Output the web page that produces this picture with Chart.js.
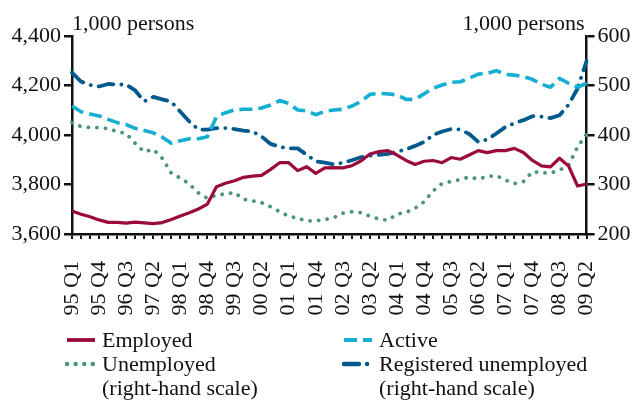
<!DOCTYPE html>
<html>
<head>
<meta charset="utf-8">
<script src="https://cdn.jsdelivr.net/npm/chart.js@4/dist/chart.umd.min.js"></script>
<style>
  html, body { margin: 0; padding: 0; background: #fff; }
  #wrap { position: relative; width: 635px; height: 401px; }
  #legend { position: absolute; left: 0; top: 0; width: 635px; height: 401px; pointer-events: none;
    font-family: "Liberation Serif", "DejaVu Serif", serif; font-size: 22px; color: #111; }
  .item { position: absolute; display: flex; align-items: flex-start; }
  .item svg { flex: none; margin-top: 0; }
  .item span { white-space: pre-line; line-height: 24px; margin-left: 6px; }
</style>
</head>
<body>
<div id="wrap">
  <canvas id="grafica" width="635" height="401"></canvas>
  <div id="legend"></div>
</div>
<script>
// quarters 95 Q1 .. 09 Q2
const trimestres = [
  "95 Q1","95 Q2","95 Q3","95 Q4","96 Q1","96 Q2","96 Q3","96 Q4",
  "97 Q1","97 Q2","97 Q3","97 Q4","98 Q1","98 Q2","98 Q3","98 Q4",
  "99 Q1","99 Q2","99 Q3","99 Q4","00 Q1","00 Q2","00 Q3","00 Q4",
  "01 Q1","01 Q2","01 Q3","01 Q4","02 Q1","02 Q2","02 Q3","02 Q4",
  "03 Q1","03 Q2","03 Q3","03 Q4","04 Q1","04 Q2","04 Q3","04 Q4",
  "05 Q1","05 Q2","05 Q3","05 Q4","06 Q1","06 Q2","06 Q3","06 Q4",
  "07 Q1","07 Q2","07 Q3","07 Q4","08 Q1","08 Q2","08 Q3","08 Q4",
  "09 Q1","09 Q2"
];

// left scale, 1,000 persons
const ocupados = [3693,3680,3670,3657,3647,3647,3644,3648,3645,3642,3646,3659,3673,3686,3701,3721,
  3791,3805,3815,3829,3834,3837,3861,3888,3888,3856,3872,3845,3867,3868,3867,3876,
  3895,3923,3933,3937,3919,3897,3881,3894,3897,3888,3909,3902,3919,3937,3929,3937,
  3937,3946,3929,3897,3875,3871,3906,3875,3794,3802];
const activos = [4117,4094,4085,4077,4063,4050,4042,4027,4018,4009,3991,3967,3977,3985,3985,3993,
  4074,4090,4101,4104,4104,4109,4121,4139,4128,4101,4097,4082,4095,4101,4104,4117,
  4135,4164,4168,4166,4162,4144,4144,4166,4189,4202,4213,4215,4229,4246,4249,4260,
  4245,4242,4236,4225,4205,4193,4229,4209,4193,4209];
// right scale, 1,000 persons
const desempleados = [425,417,415,415,413,407,403,383,366,371,353,323,313,301,283,272,
  279,281,284,270,267,263,255,245,236,232,226,227,229,233,242,245,
  243,236,230,228,240,244,252,265,287,302,306,310,315,311,316,318,
  309,302,306,326,324,323,329,339,376,402];
const registrados = [526,508,501,498,503,502,502,490,468,477,472,467,447,427,411,411,
  414,414,412,409,407,397,382,376,373,373,360,347,344,341,344,349,
  355,358,360,362,366,371,378,386,400,407,412,411,402,386,391,403,
  416,424,430,438,437,434,440,461,494,550];

const ticksIzq = [3600, 3800, 4000, 4200, 4400];
const ticksDer = [200, 300, 400, 500, 600];
const unidad = "1,000 persons";

const FUENTE = '"Liberation Serif", "DejaVu Serif", serif';
const NEGRO = "#111";

const series = [
  { label: "Employed", data: ocupados, color: "#9b0a3c", dash: [], cap: "butt", width: 3.2, eje: "y" },
  { label: "Active", data: activos, color: "#14afd2", dash: [13, 6], cap: "butt", width: 3.6, eje: "y" },
  { label: "Unemployed\n(right-hand scale)", data: desempleados, color: "#4b9676", dash: [0.1, 8.5], cap: "round", width: 3.8, eje: "y1" },
  { label: "Registered unemployed\n(right-hand scale)", data: registrados, color: "#005a8c", dash: [15, 8, 0.1, 8], cap: "round", width: 3.8, eje: "y1" }
];

// "1,000 persons" over both axes
const titulosEjes = {
  id: "titulosEjes",
  afterDraw(chart) {
    const { ctx, chartArea } = chart;
    ctx.save();
    ctx.font = "22px " + FUENTE;
    ctx.fillStyle = NEGRO;
    ctx.textBaseline = "alphabetic";
    ctx.textAlign = "left";
    ctx.fillText(unidad, chartArea.left, 30);
    ctx.textAlign = "right";
    ctx.fillText(unidad, chartArea.right - 2, 30);
    ctx.restore();
  }
};

const ejeY = (pos, valores, ancho, pad) => ({
  type: "linear",
  position: pos,
  min: valores[0],
  max: valores[valores.length - 1],
  afterBuildTicks: s => { s.ticks = valores.map(v => ({ value: v })); },
  afterFit: s => { s.width = ancho; },
  grid: { display: true, drawOnChartArea: false, drawTicks: true, tickLength: 8, color: NEGRO, lineWidth: 2.5 },
  border: { display: true, color: NEGRO, width: 2.5 },
  ticks: {
    padding: pad,
    color: NEGRO,
    font: { family: FUENTE, size: 22 },
    callback: v => v.toLocaleString("en-US")
  }
});

new Chart(document.getElementById("grafica"), {
  type: "line",
  data: {
    labels: trimestres,
    datasets: series.map(s => ({
      label: s.label,
      data: s.data,
      yAxisID: s.eje,
      borderColor: s.color,
      borderWidth: s.width,
      borderDash: s.dash,
      borderCapStyle: s.cap,
      borderJoinStyle: "round",
      pointRadius: 0,
      tension: 0,
      fill: false
    }))
  },
  options: {
    responsive: false,
    animation: false,
    layout: { padding: { top: 36, left: 0, right: 0, bottom: 0 } },
    plugins: { legend: { display: false }, tooltip: { enabled: false }, title: { display: false } },
    scales: {
      x: {
        type: "category",
        offset: false,
        afterFit: s => { s.height = 167; },
        grid: { display: true, drawOnChartArea: false, drawTicks: true, tickLength: 5, color: NEGRO, lineWidth: 2, offset: false },
        border: { display: true, color: NEGRO, width: 2.5 },
        ticks: {
          autoSkip: false,
          minRotation: 90,
          maxRotation: 90,
          padding: 22,
          color: NEGRO,
          font: { family: FUENTE, size: 22 },
          callback: (v, i) => (i % 3 === 0 ? trimestres[i] : "")
        }
      },
      y: ejeY("left", ticksIzq, 72, 3),
      y1: ejeY("right", ticksDer, 48, 3)
    }
  },
  plugins: [titulosEjes]
});

// legend below the chart, two columns
const legend = document.getElementById("legend");
const posiciones = [
  { left: 65, top: 328 }, { left: 342, top: 328 },
  { left: 65, top: 352 }, { left: 342, top: 352 }
];
series.forEach((s, i) => {
  const item = document.createElement("div");
  item.className = "item";
  item.style.left = posiciones[i].left + "px";
  item.style.top = posiciones[i].top + "px";
  const dash = s.dash.length ? s.dash.join(" ") : "none";
  item.innerHTML =
    `<svg width="31" height="24"><line x1="2" y1="12" x2="30" y2="12" stroke="${s.color}" stroke-width="${s.width + 0.6}"` +
    ` stroke-dasharray="${dash}" stroke-linecap="${s.cap}"/></svg>`;
  const txt = document.createElement("span");
  txt.textContent = s.label;
  item.appendChild(txt);
  legend.appendChild(item);
});
</script>
</body>
</html>
